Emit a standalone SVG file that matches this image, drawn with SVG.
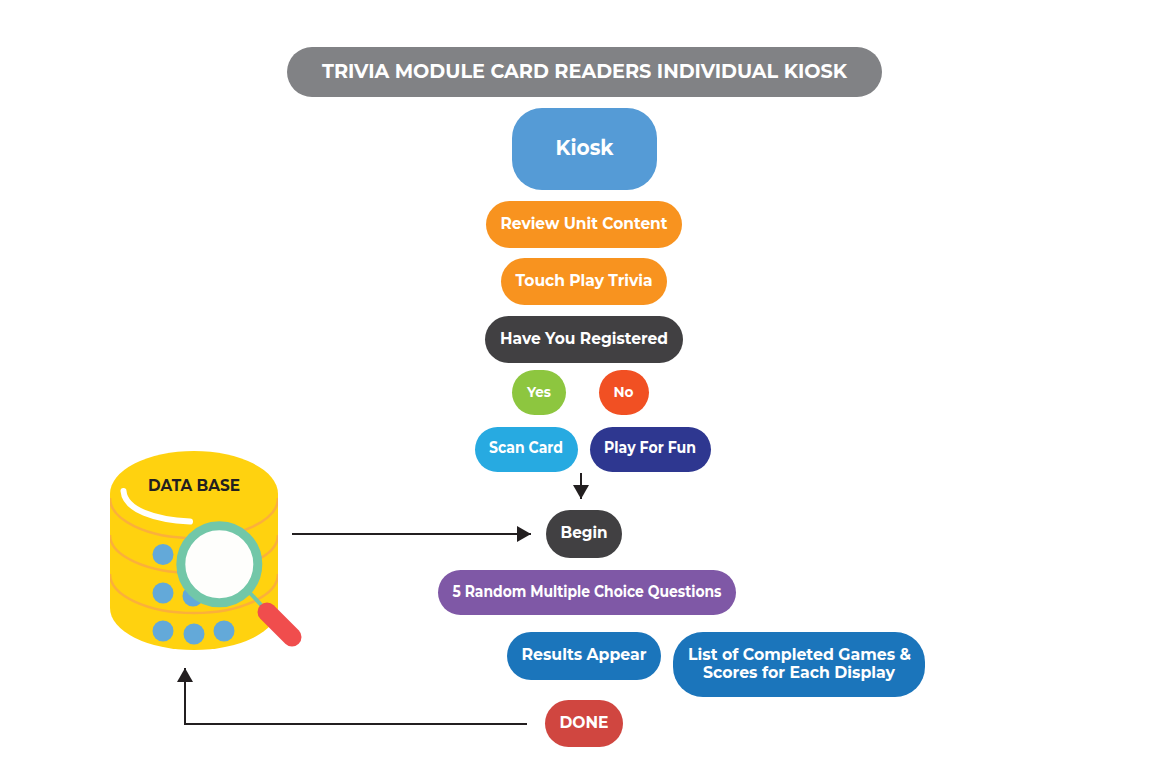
<svg xmlns="http://www.w3.org/2000/svg" width="1164" height="782" viewBox="0 0 1164 782">
<style>
.t{font-family:"Montserrat","Inter","Liberation Sans",sans-serif;font-weight:700;fill:#fff;text-anchor:middle;font-size:16.500px}
.band{fill:none;stroke:#fbb03b;stroke-width:2.5}
.dot{fill:#63a9d9}
.conn{fill:none;stroke:#231f20;stroke-width:2}
</style>
<defs>
<marker id="arrow" markerUnits="userSpaceOnUse" markerWidth="16" markerHeight="16" refX="14" refY="8" orient="auto"><path d="M0,0L14,8L0,16Z" fill="#231f20"/></marker>
<clipPath id="body"><rect x="110" y="451" width="168" height="200"/></clipPath>
</defs>
<rect width="1164" height="782" fill="#fff"/>
<g id="title"><rect x="287" y="47" width="595" height="50" rx="25" fill="#818285"/><text class="t" x="584.500" y="78" style="font-size:20px" textLength="525" lengthAdjust="spacingAndGlyphs">TRIVIA MODULE CARD READERS INDIVIDUAL KIOSK</text></g>
<g id="kiosk"><rect x="512" y="108" width="145" height="82" rx="30" fill="#559bd6"/><text class="t" x="584.500" y="155" style="font-size:21.500px" textLength="58" lengthAdjust="spacingAndGlyphs">Kiosk</text></g>
<g id="review"><rect x="486" y="201" width="196" height="47" rx="23.500" fill="#f8931f"/><text class="t" x="584" y="229" textLength="167" lengthAdjust="spacingAndGlyphs">Review Unit Content</text></g>
<g id="touch"><rect x="501" y="258" width="166" height="47" rx="23.500" fill="#f8931f"/><text class="t" x="584" y="286" textLength="137" lengthAdjust="spacingAndGlyphs">Touch Play Trivia</text></g>
<g id="registered"><rect x="485" y="316" width="198" height="47" rx="23.500" fill="#414042"/><text class="t" x="584" y="344" textLength="168" lengthAdjust="spacingAndGlyphs">Have You Registered</text></g>
<g id="yes"><rect x="512" y="370" width="54" height="45" rx="22.500" fill="#8dc63f"/><text class="t" x="539" y="397" style="font-size:15px" textLength="24" lengthAdjust="spacingAndGlyphs">Yes</text></g>
<g id="no"><rect x="599" y="370" width="50" height="45" rx="22.500" fill="#f15023"/><text class="t" x="623.500" y="397" style="font-size:15px" textLength="20" lengthAdjust="spacingAndGlyphs">No</text></g>
<g id="scan"><rect x="475" y="427" width="103" height="45" rx="22.500" fill="#27aae1"/><text class="t" x="526" y="453" style="font-size:15.500px" textLength="74" lengthAdjust="spacingAndGlyphs">Scan Card</text></g>
<g id="play"><rect x="590" y="427" width="121" height="45" rx="22.500" fill="#2e3790"/><text class="t" x="650" y="453" style="font-size:15.500px" textLength="92" lengthAdjust="spacingAndGlyphs">Play For Fun</text></g>
<g id="begin"><rect x="546" y="510" width="76" height="48" rx="24" fill="#414042"/><text class="t" x="584" y="538" textLength="47" lengthAdjust="spacingAndGlyphs">Begin</text></g>
<g id="questions"><rect x="438" y="570" width="298" height="45" rx="22.500" fill="#7f58a6"/><text class="t" x="587" y="597" style="font-size:15.500px" textLength="269" lengthAdjust="spacingAndGlyphs">5 Random Multiple Choice Questions</text></g>
<g id="results"><rect x="507" y="632" width="154" height="48" rx="24" fill="#1b75bb"/><text class="t" x="584" y="660" textLength="125" lengthAdjust="spacingAndGlyphs">Results Appear</text></g>
<g id="list"><rect x="673" y="632" width="252" height="65" rx="30" fill="#1b75bb"/><text class="t" x="799.500" y="660" textLength="223" lengthAdjust="spacingAndGlyphs">List of Completed Games &amp;</text><text class="t" x="799" y="678" textLength="192" lengthAdjust="spacingAndGlyphs">Scores for Each Display</text></g>
<g id="done"><rect x="545" y="700" width="78" height="47" rx="23.500" fill="#d04640"/><text class="t" x="584" y="728" textLength="49" lengthAdjust="spacingAndGlyphs">DONE</text></g>
<g id="database">
<path d="M110,494A84,43 0 0 1 278,494V608A84,42 0 0 1 110,608Z" fill="#ffd20f"/>
<g clip-path="url(#body)">
<path class="band" d="M110,498A84,40 0 0 0 278,498"/>
<path class="band" d="M110,535A84,38 0 0 0 278,535"/>
<path class="band" d="M110,574A84,39 0 0 0 278,574"/>
</g>
<text x="194" y="491" style="font-family:'Montserrat','Inter','Liberation Sans',sans-serif;font-weight:700;font-size:15.500px;fill:#231f20;text-anchor:middle" textLength="92" lengthAdjust="spacingAndGlyphs">DATA BASE</text>
<path d="M123.500,491C125,510 155,520 190,521.500" fill="none" stroke="#fff" stroke-width="6" stroke-linecap="round"/>
<circle class="dot" cx="163" cy="554.500" r="10.500"/><circle class="dot" cx="163" cy="593" r="10.500"/><circle class="dot" cx="193" cy="596" r="10.500"/><circle class="dot" cx="163" cy="631" r="10.500"/><circle class="dot" cx="194" cy="634" r="10.500"/><circle class="dot" cx="224" cy="631" r="10.500"/>
<path d="M250,593L264,608" stroke="#72c7a8" stroke-width="4" fill="none"/>
<circle cx="219.300" cy="564.300" r="38.500" fill="#fefefc" stroke="#72c7a8" stroke-width="9"/>
<path d="M267,612L292,637" stroke="#f04d4d" stroke-width="19" stroke-linecap="round" fill="none"/>
</g>
<g id="connectors">
<path class="conn" d="M581,473V499" marker-end="url(#arrow)"/>
<path class="conn" d="M292,534H531" marker-end="url(#arrow)"/>
<path class="conn" d="M527,724H185V668" marker-end="url(#arrow)"/>
</g>
</svg>
